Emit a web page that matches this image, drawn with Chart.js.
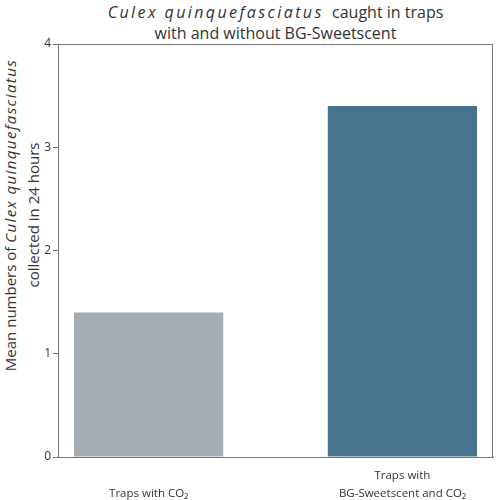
<!DOCTYPE html>
<html lang="en">
<head>
    <meta charset="UTF-8">
    <title>Culex quinquefasciatus caught in traps</title>
    <script src="https://cdn.jsdelivr.net/npm/chart.js@4.4.1/dist/chart.umd.min.js"></script>
    <style>
        html, body {
            margin: 0;
            padding: 0;
            background: #fff;
        }

        body {
            width: 500px;
            height: 500px;
            position: relative;
            overflow: hidden;
            font-family: 'Open Sans', 'Noto Sans', sans-serif;
            color: #333;
        }

        /* centred over the plot area, not the page */
        .title {
            position: absolute;
            left: 58px;
            top: 2px;
            width: 435px;
            text-align: center;
            font-size: 16px;
            line-height: 21px;
        }

        .title i {
            letter-spacing: 2.4px;
        }

        .ytitle i {
            letter-spacing: 1.4px;
        }

        .ytitle {
            position: absolute;
            left: 22px;
            top: 215px;
            width: 360px;
            margin-left: -180px;
            text-align: center;
            font-size: 15px;
            line-height: 23px;
            transform: translateY(-50%) rotate(-90deg);
        }

        canvas {
            position: absolute;
            left: 0;
            top: 0;
        }
    </style>
</head>
<body>

<div class="title"><i>Culex quinquefasciatus</i>&nbsp; caught in traps<br>with and without BG-Sweetscent</div>
<div class="ytitle">Mean numbers of <i>Culex quinquefasciatus</i><br>collected in 24 hours</div>

<div style="width:500px;height:500px;position:absolute;left:0;top:0">
    <canvas id="myChart"></canvas>
</div>

<script>
    // data
    const categories = [
        ['', 'Traps with CO\u2082'],
        ['Traps with', 'BG-Sweetscent and CO\u2082']
    ]
    const values = [1.4, 3.4]
    const colors = ['#a3adb2', '#48738f']
    const yTicks = [0, 1, 2, 3, 4]

    // thin frame round the plot area
    const frame = {
        id: 'frame',
        afterDraw(chart) {
            const a = chart.chartArea
            const c = chart.ctx
            c.save()
            c.strokeStyle = '#777'
            c.lineWidth = 1
            c.strokeRect(a.left + 0.5, a.top + 0.5, a.right - a.left - 1, a.bottom - a.top)
            c.restore()
        }
    }

    const ctx = document.getElementById('myChart').getContext('2d')
    new Chart(ctx, {
        type: 'bar',
        data: {
            datasets: [{
                data: values.map((v, i) => ({x: i, y: v})),
                backgroundColor: colors,
                barPercentage: 0.588,
                categoryPercentage: 1
            }]
        },
        plugins: [frame],
        options: {
            responsive: true,
            maintainAspectRatio: false,
            animation: false,
            layout: {
                padding: {left: 30, top: 44, right: 7, bottom: 0}
            },
            plugins: {
                legend: {display: false},
                tooltip: {enabled: false}
            },
            scales: {
                x: {
                    type: 'linear',
                    offset: false,
                    min: -0.357,
                    max: 1.357,
                    afterBuildTicks: s => { s.ticks = categories.map((c, i) => ({value: i})) },
                    afterFit: s => { s.height = 43 },
                    grid: {display: false, offset: false},
                    border: {display: true, color: '#777'},
                    ticks: {
                        callback: (v) => categories[v],
                        maxRotation: 0,
                        autoSkip: false,
                        padding: 2,
                        color: '#333',
                        font: {family: "'Open Sans', 'Noto Sans', sans-serif", size: 11.5, lineHeight: 1.55}
                    }
                },
                y: {
                    min: 0,
                    max: 4,
                    afterBuildTicks: s => { s.ticks = yTicks.map(v => ({value: v})) },
                    afterFit: s => { s.width = 28 },
                    grid: {drawOnChartArea: false, tickLength: 5, color: '#777'},
                    border: {display: true, color: '#777'},
                    ticks: {
                        padding: 2,
                        color: '#333',
                        font: {family: "'Open Sans', 'Noto Sans', sans-serif", size: 12}
                    }
                }
            }
        }
    })
</script>
</body>
</html>
